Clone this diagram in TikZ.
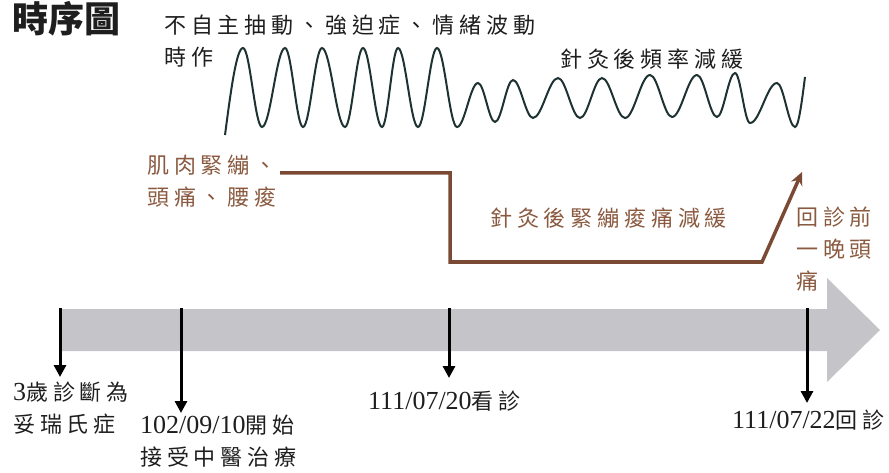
\documentclass[tikz,border=0pt]{standalone}
\usepackage{fontspec}
\usetikzlibrary{arrows.meta}
\newfontfamily\cjk[LetterSpace=22]{Noto Sans CJK TC}
\newfontfamily\cjktitle{Noto Sans CJK TC}
\newfontfamily\dig{Liberation Serif}
\definecolor{txt}{HTML}{1E1E1E}
\definecolor{brn}{HTML}{7A4A35}
\definecolor{brntxt}{HTML}{8A5A40}
\definecolor{wave}{HTML}{1E3232}
\definecolor{band}{HTML}{C5C4C8}
\newcommand{\dg}[1]{{\dig\fontsize{26}{26}\selectfont #1}}
\begin{document}
\begin{tikzpicture}[x=1pt,y=-1pt,
  lbl/.style={inner sep=0pt,text=txt,font=\cjk\fontsize{22}{32}\selectfont,align=left},
  blbl/.style={inner sep=0pt,text=brntxt,font=\cjk\fontsize{22}{32}\selectfont,align=left},
  ttl/.style={inner sep=0pt,text=txt,font=\cjktitle\bfseries\fontsize{36}{40}\selectfont},
  tick/.style={line width=3pt,draw=black,-{Triangle[width=12pt,length=12pt]}},
  trend/.style={line width=3.5pt,draw=brn,-{Stealth[width=12pt,length=13pt]}},
  wavy/.style={line width=2pt,draw=wave}]
\useasboundingbox (0,0) rectangle (889,473);
% title
\node[ttl,anchor=west] (title) at (12,19) {時序圖};
% gray time band
\path[fill=band] (60,309) -- (827,309) -- (827,278) -- (880,330) -- (827,382) -- (827,351) -- (60,351) -- cycle;
\coordinate (band) at (470,330);
% wave
\draw[wavy] (225,135) sin (243,48)
 cos (252.5,87.5) sin (262,127)
 cos (273.5,87.5) sin (285,48)
 cos (294,87.5) sin (303,127)
 cos (312.5,87.5) sin (322,48)
 cos (333.5,87.5) sin (345,127)
 cos (354,87.5) sin (363,48)
 cos (372.5,87.5) sin (382,127)
 cos (390,87.5) sin (398,48)
 cos (408,87.5) sin (418,127)
 cos (427.5,87.5) sin (437,48)
 cos (447,87.5) sin (457,127)
 cos (467.5,105) sin (478,83)
 cos (486.5,102.5) sin (495,122)
 cos (504,101) sin (513,80)
 cos (523,99) sin (533,118)
 cos (545.5,98) sin (558,78)
 cos (569,98) sin (580,118)
 cos (591,98) sin (602,78)
 cos (613.5,98) sin (625,118)
 cos (637.5,96.5) sin (650,75)
 cos (661,96) sin (672,117)
 cos (684.5,96) sin (697,75)
 cos (707,96) sin (717,117)
 cos (726,95) sin (735,73)
 cos (742.5,98) sin (750,123)
 cos (763.5,103) sin (777,83)
 cos (786,105) sin (795,127)
 cos (805,77);
% top labels
\node[lbl,anchor=north west] (sym) at (164,15) {不自主抽動、強迫症、情緒波動\\時作};
\node[lbl,anchor=west] (freq) at (560,59) {針灸後頻率減緩};
% brown trend
\node[blbl,anchor=north west] (pain) at (147,155) {肌肉緊繃、\\頭痛、腰痠};
\coordinate (p0) at (280,173);
\coordinate (p1) at (450,173);
\coordinate (p2) at (450,262);
\coordinate (p3) at (762,262);
\coordinate (p4) at (802,172);
\draw[trend] (p0) -- (p1) -- (p2) -- (p3) -- (p4);
\node[blbl,anchor=west] (relief) at (490,218) {針灸後緊繃痠痛減緩};
\node[blbl,anchor=north west] (night) at (796,207) {回診前\\一晚頭\\痛};
% ticks
\coordinate (a1) at (60,308);  \coordinate (b1) at (60,377);
\coordinate (a2) at (181,308); \coordinate (b2) at (181,413);
\coordinate (a3) at (449,308); \coordinate (b3) at (449,378);
\coordinate (a4) at (807,308); \coordinate (b4) at (807,403);
\draw[tick] (a1) -- (b1);
\draw[tick] (a2) -- (b2);
\draw[tick] (a3) -- (b3);
\draw[tick] (a4) -- (b4);
% bottom labels
\node[lbl,anchor=north west] (d1) at (13,382) {\dg{3}歲診斷為\\妥瑞氏症};
\node[lbl,anchor=north west] (d2) at (140,415) {\dg{102/09/10}開始\\接受中醫治療};
\node[lbl,anchor=west] (d3) at (368,401) {\dg{111/07/20}看診};
\node[lbl,anchor=west] (d4) at (732,420) {\dg{111/07/22}回診};
\end{tikzpicture}
\end{document}
